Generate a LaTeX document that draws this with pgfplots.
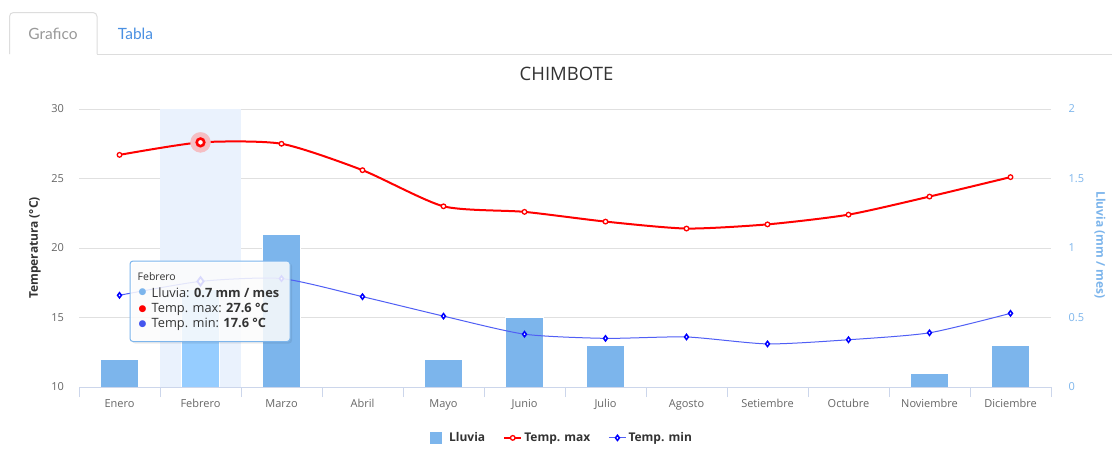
\documentclass[border=0pt]{standalone}
\usepackage{fontspec}
\setmainfont{Open Sans}
\newfontfamily\tabfont{Lato}
\newfontfamily\symfont{DejaVu Sans}
\usepackage{pgfplots}
\pgfplotsset{compat=1.18}
\definecolor{rain}{HTML}{7CB5EC}
\definecolor{rainhover}{HTML}{96CDFF}
\definecolor{bandc}{RGB}{234,242,253}
\definecolor{gridc}{HTML}{E0E0E0}
\definecolor{axisc}{HTML}{CCD6EB}
\definecolor{labelc}{HTML}{666666}
\definecolor{titlec}{HTML}{333333}
\definecolor{tabborder}{HTML}{DDDDDD}
\definecolor{tabgrey}{HTML}{999999}
\definecolor{tablink}{HTML}{4A90E2}
\definecolor{tminline}{RGB}{80,95,245}
\definecolor{tmindot}{RGB}{68,85,238}
\definecolor{halo}{RGB}{245,190,195}
\begin{document}
\begin{tikzpicture}
\useasboundingbox (0,0) rectangle (1112pt,-448pt);
\fill[white] (0,0) rectangle (1112pt,-448pt);
\begin{scope}[x=1pt,y=-1pt]
  \draw[tabborder, line width=1pt] (97,54) -- (1112,54);
  \draw[tabborder, line width=1pt, rounded corners=4pt] (9.5,54) -- (9.5,12.5) -- (97,12.5) -- (97,54);
  \node[font=\tabfont\fontsize{15.5}{18}\selectfont, text=tabgrey] at (53,33.5) {Grafico};
  \node[font=\tabfont\fontsize{15.5}{18}\selectfont, text=tablink] at (135.5,33.5) {Tabla};
  \node[font=\fontsize{18.5}{22}\selectfont, text=titlec] at (566.5,74) {CHIMBOTE};
  \node[rotate=90, font=\bfseries\fontsize{12}{14}\selectfont, text=titlec] at (35,248) {Temperatura (°C)};
  \node[rotate=-90, font=\bfseries\fontsize{12}{14}\selectfont, text=rain] at (1100,245) {Lluvia (mm / mes)};
\end{scope}

% Rain axis (right)
\begin{axis}[
  at={(79pt,-387pt)}, anchor=south west,
  width=972pt, height=278pt, scale only axis,
  xmin=-0.5, xmax=11.5, ymin=0, ymax=2,
  axis x line*=bottom, axis y line*=right,
  x axis line style={draw=axisc, line width=1pt},
  y axis line style={draw=none},
  xtick={0,...,11},
  xticklabels={Enero,Febrero,Marzo,Abril,Mayo,Junio,Julio,Agosto,Setiembre,Octubre,Noviembre,Diciembre},
  minor xtick={-0.5,0.5,...,11.5},
  ytick={0,0.5,1,1.5,2}, yticklabels={0,0.5,1,1.5,2},
  ymajorgrids, grid style={draw=gridc, line width=1pt},
  major tick length=0pt, minor tick length=10pt,
  tick align=outside,
  minor tick style={draw=axisc, line width=1pt},
  major tick style={draw=none},
  /pgf/number format/assume math mode=true,
  xticklabel style={font=\fontsize{11}{13}\selectfont, text=labelc, yshift=-9pt},
  yticklabel style={font=\fontsize{11}{13}\selectfont, text=rain, anchor=west, xshift=14pt},
  clip=false,
]
\fill[bandc] (axis cs:0.5,0) rectangle (axis cs:1.5,2);
\addplot[ybar, bar width=38pt, bar shift=0pt, fill=rain, draw=white, line width=0.6pt] coordinates {
  (0,0.2) (1,0.7) (2,1.1) (3,0) (4,0.2) (5,0.5) (6,0.3) (7,0) (8,0) (9,0) (10,0.1) (11,0.3)
};
\addplot[ybar, bar width=38pt, bar shift=0pt, fill=rainhover, draw=white, line width=0.6pt] coordinates {(1,0.7)};
\draw[axisc, line width=1pt] (axis cs:-0.5,0) -- (axis cs:11.5,0);
\end{axis}

% Temperature axis (left)
\begin{axis}[
  at={(79pt,-387pt)}, anchor=south west,
  width=972pt, height=278pt, scale only axis,
  xmin=-0.5, xmax=11.5, ymin=10, ymax=30,
  hide x axis, axis y line*=left,
  y axis line style={draw=none},
  ytick={10,15,20,25,30}, yticklabels={10,15,20,25,30},
  major tick length=0pt, major tick style={draw=none},
  /pgf/number format/assume math mode=true,
  yticklabel style={font=\fontsize{11}{13}\selectfont, text=labelc, anchor=east, xshift=-11.5pt},
  clip=false,
  legend style={at={(0.497,-0.183)}, anchor=center, draw=none, fill=none,
    font=\bfseries\fontsize{12}{14}\selectfont, text=titlec,
    /tikz/every even column/.append style={column sep=16pt}},
  legend columns=3,
]
\addlegendimage{legend image code/.code={\fill[rain, draw=none] (0pt,-6pt) rectangle (12pt,6pt); \path[draw=none, fill=none] (0pt,0pt) rectangle (17pt,0.1pt);}}
\addlegendentry{Lluvia}
\addplot[red, line width=2pt, smooth, tension=0.4, mark=*, mark size=2.3pt,
  mark options={fill=white, draw=red, line width=1.3pt}] coordinates {
  (0,26.7) (1,27.6) (2,27.5) (3,25.6) (4,23.0) (5,22.6) (6,21.9) (7,21.4) (8,21.7) (9,22.4) (10,23.7) (11,25.1)
};
\addlegendentry{Temp. max}
\addplot[tminline, line width=1pt, smooth, tension=0.4, mark=diamond*, mark size=2.6pt,
  mark options={fill=white, draw=blue, line width=1.5pt}] coordinates {
  (0,16.6) (1,17.6) (2,17.8) (3,16.5) (4,15.1) (5,13.8) (6,13.5) (7,13.6) (8,13.1) (9,13.4) (10,13.9) (11,15.3)
};
\addlegendentry{Temp. min}
% hover state of Febrero
\addplot[forget plot, only marks, color=halo, mark=*, mark size=10pt,
  mark options={fill=halo, draw=halo}] coordinates {(1,27.6)};
\addplot[forget plot, only marks, color=red, mark=*, mark size=3.8pt,
  mark options={fill=white, draw=red, line width=2.6pt}] coordinates {(1,27.6)};
\addplot[forget plot, only marks, color=blue, mark=diamond*, mark size=4.2pt,
  mark options={fill=white, draw=blue, line width=1.8pt}] coordinates {(1,17.6)};
\end{axis}

% Tooltip
\begin{scope}[x=1pt,y=-1pt]
  \fill[black, opacity=0.07, rounded corners=3pt] (132,263) rectangle (292,343.5);
  \draw[draw=rain, fill=white, fill opacity=0.85, rounded corners=3pt, line width=1pt] (130,261) rectangle (290,341.5);
  \node[anchor=west, inner sep=0pt, font=\fontsize{10.5}{12}\selectfont, text=titlec] at (137.5,277) {Febrero};
  \node[inner sep=0pt, font=\symfont\fontsize{9}{10}\selectfont, text=rain] at (142.5,292.5) {●};
  \node[inner sep=0pt, font=\symfont\fontsize{9}{10}\selectfont, text=red] at (142.5,309) {●};
  \node[inner sep=0pt, font=\symfont\fontsize{9}{10}\selectfont, text=tmindot] at (142.5,324.5) {●};
  \node[anchor=west, inner sep=0pt, font=\fontsize{12.8}{14}\selectfont, text=titlec] at (151.5,292.5) {Lluvia: \textbf{0.7 mm / mes}};
  \node[anchor=west, inner sep=0pt, font=\fontsize{12.8}{14}\selectfont, text=titlec] at (151.5,309) {Temp. max: \textbf{27.6 °C}};
  \node[anchor=west, inner sep=0pt, font=\fontsize{12.8}{14}\selectfont, text=titlec] at (151.5,324.5) {Temp. min: \textbf{17.6 °C}};
\end{scope}
\end{tikzpicture}
\end{document}
